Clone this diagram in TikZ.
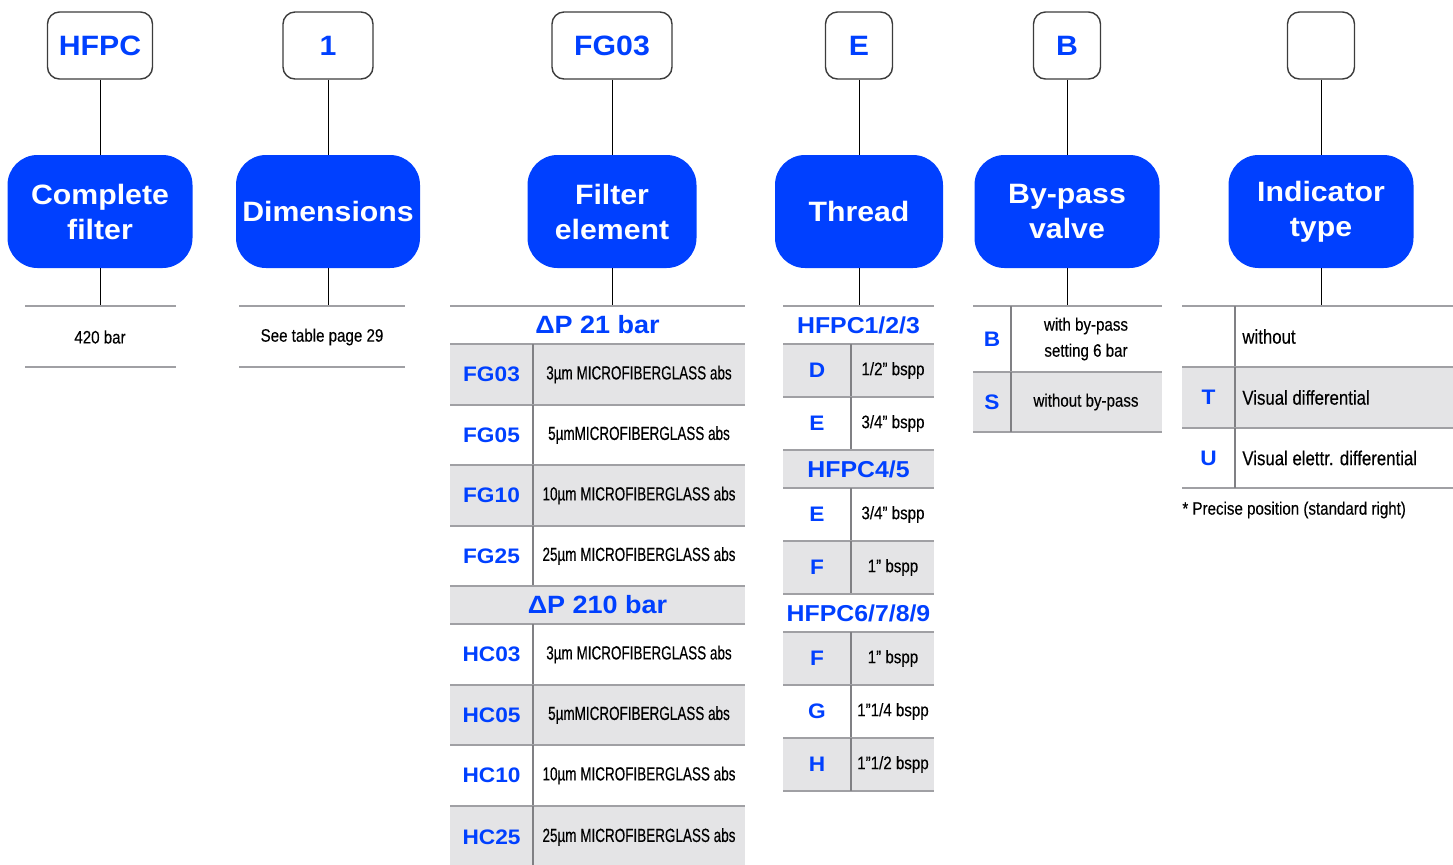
\documentclass[tikz,border=0pt]{standalone}
\usepackage{fontspec}
\setmainfont{Liberation Sans}
\newfontfamily\codefont[FakeStretch=1.08]{Liberation Sans}
\newfontfamily\condfont[FakeStretch=0.84, FakeBold=0.3]{Liberation Sans}
\newfontfamily\narrowfont[FakeStretch=0.71, FakeBold=0.3]{Liberation Sans}
\usetikzlibrary{positioning}
\definecolor{hfBlue}{RGB}{0,64,255}
\definecolor{rowGray}{RGB}{228,228,230}
\definecolor{lineGray}{RGB}{160,160,164}
\definecolor{divGray}{RGB}{128,128,132}
\definecolor{boxEdge}{RGB}{60,60,60}
\tikzset{
  codebox/.style  = {draw=boxEdge, line width=0.7pt, rounded corners=6pt,
                     fill=white, minimum height=33.5pt, text=hfBlue,
                     font=\codefont\bfseries\fontsize{14}{16}\selectfont},
  catbox/.style   = {fill=hfBlue, rounded corners=15pt, minimum height=56.5pt,
                     align=center, text=white, inner sep=0pt,
                     font=\codefont\bfseries\fontsize{14}{17.5}\selectfont},
  link/.style     = {draw=black, line width=0.5pt},
  rowline/.style  = {draw=lineGray, line width=1pt},
  divline/.style  = {draw=divGray, line width=1.2pt},
  codetext/.style = {text=hfBlue, inner sep=0pt,
                     font=\codefont\bfseries\fontsize{10.5}{12}\selectfont},
  headtext/.style = {text=hfBlue, inner sep=0pt,
                     font=\codefont\bfseries\fontsize{11.5}{13}\selectfont},
  desctext/.style = {inner sep=0pt, align=center,
                     font=\condfont\fontsize{9}{13}\selectfont},
  microtext/.style = {font=\narrowfont\fontsize{9.5}{13}\selectfont},
  widetext/.style = {anchor=west, font=\condfont\fontsize{10}{13}\selectfont}
}
% left, divider, right, description x, description placement
\newcommand{\settable}[5]{%
  \def\tabL{#1}\def\tabM{#2}\def\tabR{#3}\def\tabD{#4}%
  \tikzset{descpos/.style={#5}}%
}
% name, top, bottom, fill, code, description
\newcommand{\coderow}[6]{%
  \fill[#4] (\tabL,#2) rectangle (\tabR,#3);
  \draw[rowline] (\tabL,#2) -- (\tabR,#2);
  \draw[rowline] (\tabL,#3) -- (\tabR,#3);
  \draw[divline] (\tabM,#2) -- (\tabM,#3);
  \node[codetext] (#1c) at ({(\tabL+\tabM)/2},{(#2+#3)/2}) {#5};
  \node[desctext, descpos] (#1d) at (\tabD,{(#2+#3)/2}) {#6};
}
% name, top, bottom, fill, text
\newcommand{\headrow}[5]{%
  \fill[#4] (\tabL,#2) rectangle (\tabR,#3);
  \draw[rowline] (\tabL,#2) -- (\tabR,#2);
  \draw[rowline] (\tabL,#3) -- (\tabR,#3);
  \node[headtext] (#1) at ({(\tabL+\tabR)/2},{(#2+#3)/2}) {#5};
}
\begin{document}
\begin{tikzpicture}[x=0.5pt, y=-0.5pt]
  \useasboundingbox (0,0) rectangle (1453,864);

  %% -- Code boxes -------------------------------------------------
  \node[codebox, minimum width=52.5pt] (codeFull)   at (100,45.5)  {HFPC};
  \node[codebox, minimum width=45pt]   (codeDim)    at (328,45.5)  {1};
  \node[codebox, minimum width=60pt]   (codeElem)   at (612,45.5)  {FG03};
  \node[codebox, minimum width=33.5pt] (codeThread) at (859,45.5)  {E};
  \node[codebox, minimum width=33.5pt] (codeBypass) at (1067,45.5) {B};
  \node[codebox, minimum width=33.5pt] (codeInd)    at (1321,45.5) {};

  %% -- Category boxes ---------------------------------------------
  \node[catbox, minimum width=92.5pt] (catFull)   at (100,211.5)  {Complete\\filter};
  \node[catbox, minimum width=92pt]   (catDim)    at (328,211.5)  {Dimensions};
  \node[catbox, minimum width=84.5pt] (catElem)   at (612,211.5)  {Filter\\element};
  \node[catbox, minimum width=84pt]   (catThread) at (859,211.5)  {Thread};
  \node[catbox, minimum width=92.5pt] (catBypass) at (1067,211.5) {By-pass\\valve};
  \node[catbox, minimum width=92.5pt] (catInd)    at (1321,211.5) {Indicator\\type};

  %% -- Table tops -------------------------------------------------
  \coordinate (tabFull)   at (100,306);
  \coordinate (tabDim)    at (328,306);
  \coordinate (tabElem)   at (612,306);
  \coordinate (tabThread) at (859,306);
  \coordinate (tabBypass) at (1067,306);
  \coordinate (tabInd)    at (1321,306);

  %% -- Connectors -------------------------------------------------
  \foreach \k in {Full, Dim, Elem, Thread, Bypass, Ind} {
    \draw[link] (code\k) -- (cat\k);
    \draw[link] (cat\k) -- (tab\k);
  }

  %% -- Complete filter / dimensions -------------------------------
  \draw[rowline] (25,306) -- (176,306);
  \draw[rowline] (25,367) -- (176,367);
  \node[desctext] (valFull) at (100,337) {420 bar};
  \draw[rowline] (239,306) -- (405,306);
  \draw[rowline] (239,367) -- (405,367);
  \node[desctext] (valDim) at (322,337) {See table page 29};

  %% -- Filter element ---------------------------------------------
  \settable{450}{533}{745}{639}{microtext}
  \headrow{dpLow}{306}{344}{white}{\fontsize{12.5}{14}\selectfont ΔP 21 bar}
  \coderow{fgA}{344}{405}{rowGray}{FG03}{3µm MICROFIBERGLASS abs}
  \coderow{fgB}{405}{465}{white}{FG05}{5µmMICROFIBERGLASS abs}
  \coderow{fgC}{465}{526}{rowGray}{FG10}{10µm MICROFIBERGLASS abs}
  \coderow{fgD}{526}{586}{white}{FG25}{25µm MICROFIBERGLASS abs}
  \headrow{dpHigh}{586}{624}{rowGray}{\fontsize{12.5}{14}\selectfont ΔP 210 bar}
  \coderow{hcA}{624}{685}{white}{HC03}{3µm MICROFIBERGLASS abs}
  \coderow{hcB}{685}{745}{rowGray}{HC05}{5µmMICROFIBERGLASS abs}
  \coderow{hcC}{745}{806}{white}{HC10}{10µm MICROFIBERGLASS abs}
  \coderow{hcD}{806}{868}{rowGray}{HC25}{25µm MICROFIBERGLASS abs}

  %% -- Thread -----------------------------------------------------
  \settable{783}{851}{934}{893}{}
  \headrow{sizeA}{306}{344}{white}{HFPC1/2/3}
  \coderow{thA}{344}{397}{rowGray}{D}{1/2” bspp}
  \coderow{thB}{397}{450}{white}{E}{3/4” bspp}
  \headrow{sizeB}{450}{488}{rowGray}{HFPC4/5}
  \coderow{thC}{488}{541}{white}{E}{3/4” bspp}
  \coderow{thD}{541}{594}{rowGray}{F}{1” bspp}
  \headrow{sizeC}{594}{632}{white}{HFPC6/7/8/9}
  \coderow{thE}{632}{685}{rowGray}{F}{1” bspp}
  \coderow{thF}{685}{738}{white}{G}{1”1/4 bspp}
  \coderow{thG}{738}{791}{rowGray}{H}{1”1/2 bspp}

  %% -- By-pass valve ----------------------------------------------
  \settable{973}{1011}{1162}{1086}{}
  \coderow{bpA}{306}{372}{white}{B}{with by-pass\\setting 6 bar}
  \coderow{bpB}{372}{432}{rowGray}{S}{without by-pass}

  %% -- Indicator type ---------------------------------------------
  \settable{1182}{1235}{1453}{1242}{widetext}
  \coderow{indA}{306}{367}{white}{}{without}
  \coderow{indB}{367}{428}{rowGray}{T}{Visual differential}
  \coderow{indC}{428}{488}{white}{U}{Visual elettr. differential}
  \node[desctext, anchor=west] (note) at (1182,510) {* Precise position (standard right)};

\end{tikzpicture}
\end{document}
